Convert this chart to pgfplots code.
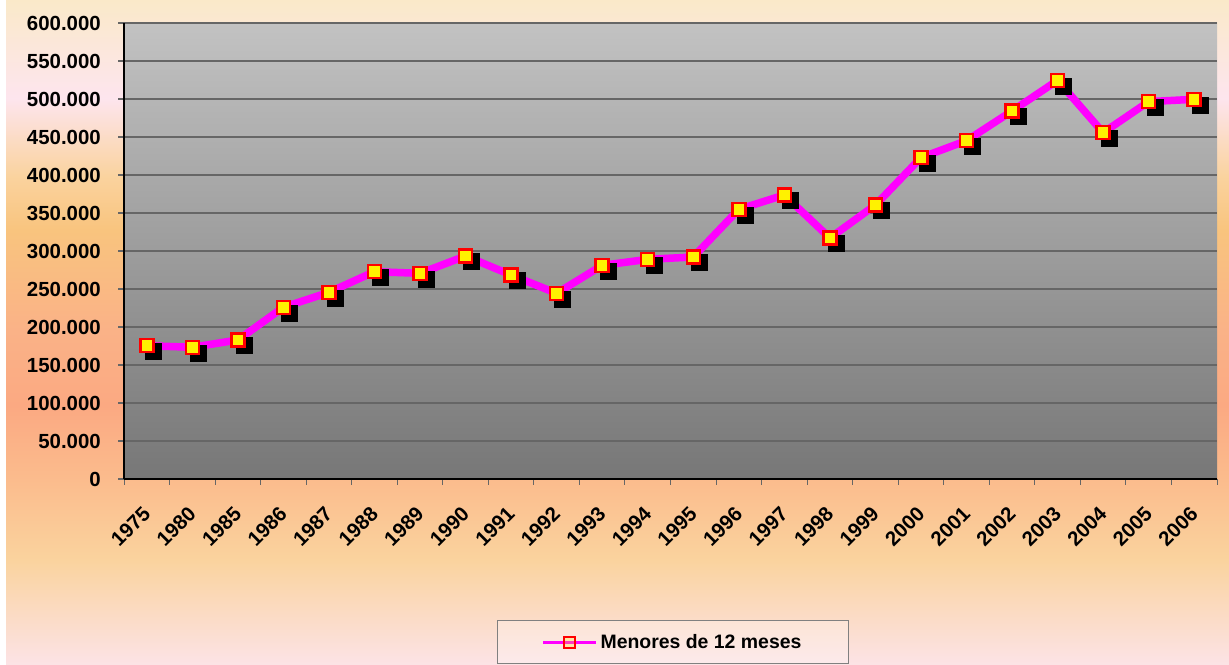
\documentclass[border=0pt]{standalone}
\usepackage{fontspec}
\setmainfont{Liberation Sans}
\usepackage{pgfplots}
\usepackage{pgfplotstable}
\pgfplotsset{compat=1.18}

\definecolor{bg0}{HTML}{FAE9C9}
\definecolor{bg1}{HTML}{FDE5EE}
\definecolor{bg2}{HTML}{FAD39F}
\definecolor{bg3}{HTML}{F9C47E}
\definecolor{bg4}{HTML}{FAB287}
\definecolor{bg5}{HTML}{FBA982}
\definecolor{bg6}{HTML}{FBBC8D}
\definecolor{bg7}{HTML}{FAD39E}
\definecolor{bg8}{HTML}{FBDCC8}
\definecolor{bg9}{HTML}{FCE3E6}
\definecolor{plottop}{HTML}{C2C2C2}
\definecolor{plotbot}{HTML}{777777}
\definecolor{gridgray}{HTML}{666666}
\definecolor{mag}{HTML}{FF00FF}

\pgfdeclareverticalshading{bgshade}{100bp}{%
color(0bp)=(bg9); color(25bp)=(bg9); color(28.4bp)=(bg8); color(32.9bp)=(bg7);
color(38.9bp)=(bg6); color(44.5bp)=(bg5); color(50.2bp)=(bg4); color(57.7bp)=(bg3);
color(61.8bp)=(bg2); color(67.6bp)=(bg1); color(75bp)=(bg0); color(100bp)=(bg0)}

\pgfplotstableread{
x y
0 175400
1 173300
2 182900
3 225900
4 245600
5 272800
6 270600
7 293400
8 268400
9 244300
10 281100
11 289000
12 292100
13 354800
14 373700
15 317100
16 360500
17 422800
18 445200
19 484200
20 524500
21 455700
22 496500
23 499600
}\datatable

\begin{document}
\begin{tikzpicture}[x=1bp,y=1bp]
\useasboundingbox (0,0) rectangle (1229,665);
\shade[shading=bgshade] (6,0) rectangle (1229,665);
\begin{axis}[
  at={(124bp,186bp)}, anchor=south west,
  scale only axis, width=1093bp, height=456bp,
  xmin=-0.5, xmax=23.5, ymin=0, ymax=600000,
  axis x line*=bottom, axis y line*=left,
  axis line style={black, line width=1.2bp},
  axis background/.style={shade, top color=plottop, bottom color=plotbot},
  ymajorgrids, grid style={gridgray, line width=1.4bp},
  ytick={0,50000,...,600000},
  scaled y ticks=false,
  xtick={0,...,23},
  xticklabels={1975,1980,1985,1986,1987,1988,1989,1990,1991,1992,1993,1994,1995,1996,1997,1998,1999,2000,2001,2002,2003,2004,2005,2006},
  minor xtick={-0.5,0.5,...,23.5},
  tick align=outside,
  major tick length=6bp, minor tick length=6bp,
  major x tick style={draw=none},
  minor x tick style={draw=gridgray, line width=1bp},
  major y tick style={draw=gridgray, line width=1.4bp},
  ticklabel style={font=\fontsize{20.5}{24}\selectfont\bfseries, text=black},
  yticklabel style={anchor=east, inner sep=0pt, xshift=-17bp},
  xticklabel style={rotate=45, anchor=east, inner sep=0pt},
  xticklabel shift=25bp,
  /pgf/number format/.cd, fixed, precision=0, 1000 sep={.}, assume math mode=true,
  /pgfplots/.cd,
  legend image code/.code={
    \draw[mag, line width=3bp] (0bp,0bp) -- (53bp,0bp);
    \draw[fill=yellow, draw=red, line width=2bp] (21bp,-5.5bp) rectangle (32bp,5.5bp);
  },
  legend style={at={(0.5023,-0.3575)}, anchor=center, draw=gray, line width=1bp,
    fill=white, fill opacity=0.25, text opacity=1, draw opacity=1,
    font=\fontsize{19.5}{23}\selectfont\bfseries,
    inner xsep=44bp, inner ysep=11bp, nodes={inner sep=3bp}},
]
\addplot[only marks, mark=square*, mark size=8bp, color=black,
  mark options={xshift=6bp, yshift=-5.5bp}, forget plot] table {\datatable};
\addplot[mag, line width=7.5bp, mark=square*, mark size=6.5bp,
  mark options={fill=yellow, draw=red, line width=2.5bp, solid}] table {\datatable};
\addlegendentry{Menores de 12 meses}
\end{axis}
\end{tikzpicture}
\end{document}
